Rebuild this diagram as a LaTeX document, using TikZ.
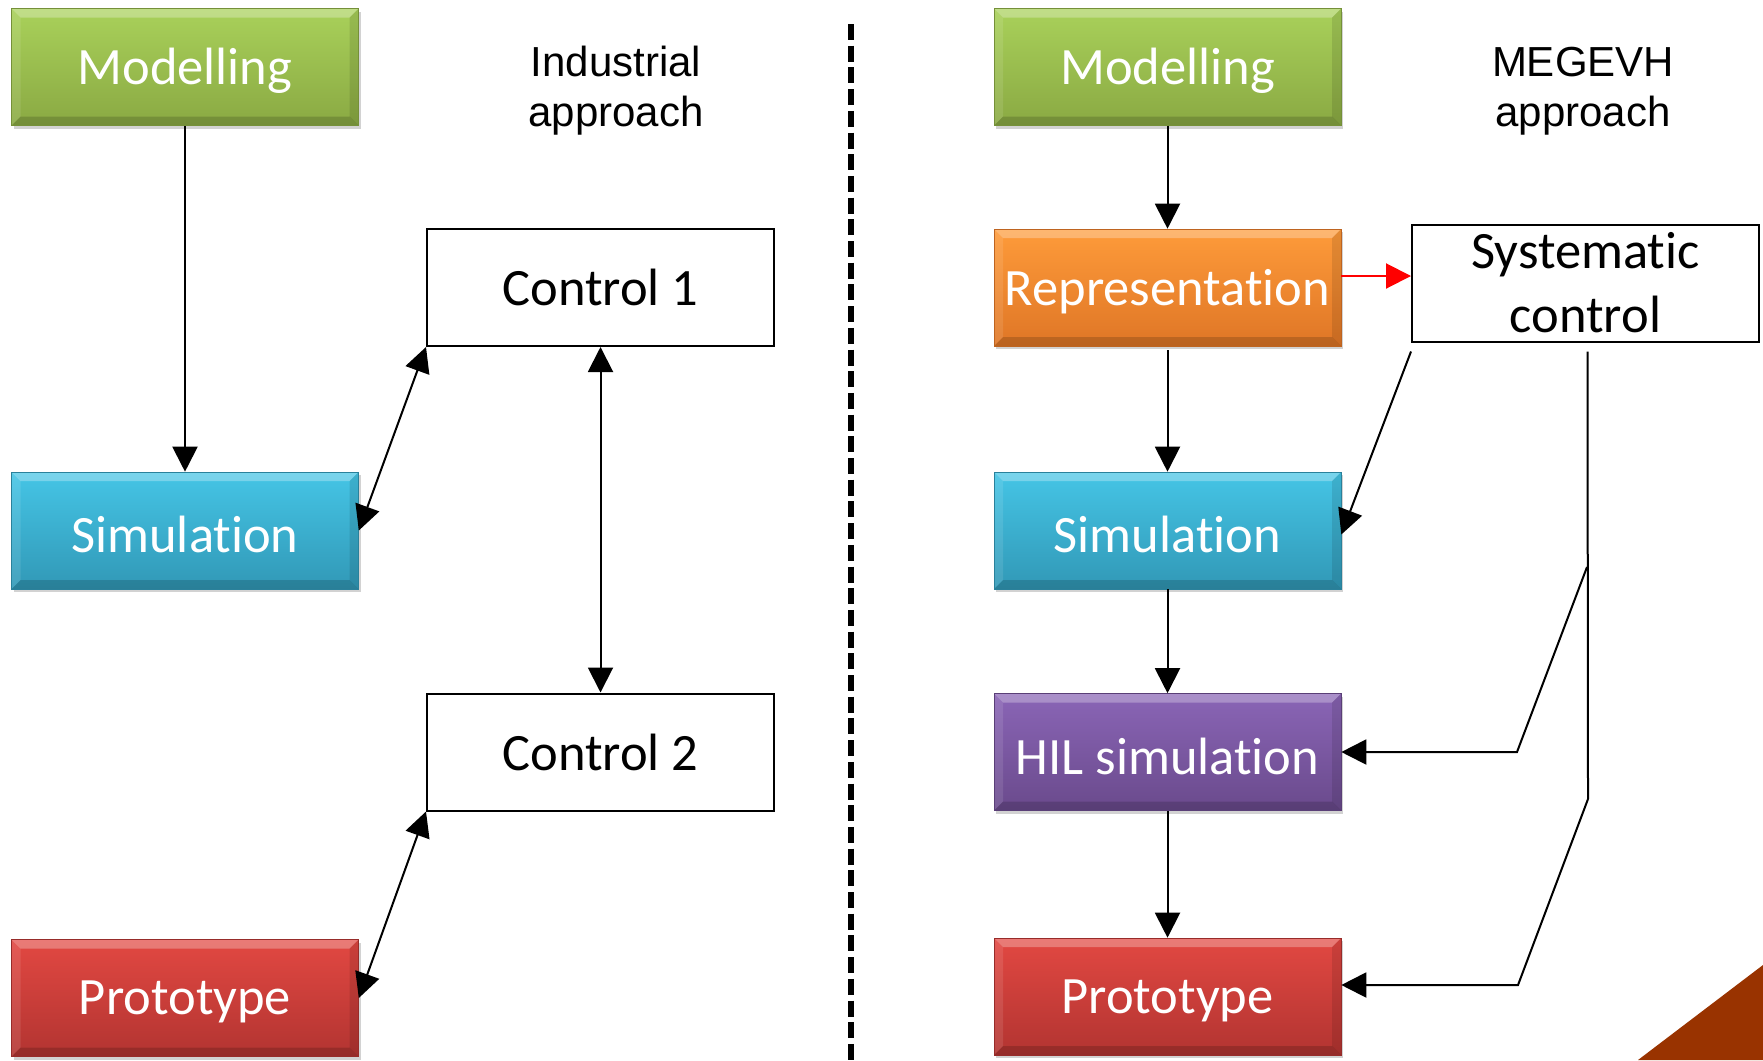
\documentclass[tikz,border=0pt]{standalone}
\usepackage{fontspec}
\setmainfont[RawFeature={-liga;-clig;-dlig;-calt}]{Carlito}
\newfontfamily\arialf{Liberation Sans}
\usetikzlibrary{arrows.meta,shadows,calc}
\definecolor{gtop}{HTML}{A9D15A}\definecolor{gbot}{HTML}{8AA943}
\definecolor{otop}{HTML}{FE9B3A}\definecolor{obot}{HTML}{DF7626}
\definecolor{ctop}{HTML}{45C5E6}\definecolor{cbot}{HTML}{3198B6}
\definecolor{ptop}{HTML}{8A65B6}\definecolor{pbot}{HTML}{6A4A8C}
\definecolor{rtop}{HTML}{E24842}\definecolor{rbot}{HTML}{B23431}
\definecolor{brownc}{HTML}{993300}
\newcommand{\lowtext}[1]{\raisebox{-4pt}[\height][\depth]{#1}}
\tikzset{
  boxbase/.style={minimum width=347pt, minimum height=117pt, inner sep=0pt,
    font=\fontsize{52.5}{64}\selectfont, align=center},
  colbox/.style={boxbase, text=white, top color=#1top, bottom color=#1bot,
    draw=#1bot!85!black, line width=0.6pt,
    drop shadow={opacity=0.35, shadow xshift=2pt, shadow yshift=-3pt},
    path picture={
      \fill[white,opacity=0.28] (path picture bounding box.north west) -- (path picture bounding box.north east)
        -- ([xshift=-9pt,yshift=-9pt]path picture bounding box.north east) -- ([xshift=9pt,yshift=-9pt]path picture bounding box.north west) -- cycle;
      \fill[white,opacity=0.10] (path picture bounding box.north west) -- ([xshift=9pt,yshift=-9pt]path picture bounding box.north west)
        -- ([xshift=9pt,yshift=9pt]path picture bounding box.south west) -- (path picture bounding box.south west) -- cycle;
      \fill[black,opacity=0.10] (path picture bounding box.north east) -- ([xshift=-9pt,yshift=-9pt]path picture bounding box.north east)
        -- ([xshift=-9pt,yshift=9pt]path picture bounding box.south east) -- (path picture bounding box.south east) -- cycle;
      \fill[black,opacity=0.16] (path picture bounding box.south west) -- (path picture bounding box.south east)
        -- ([xshift=-9pt,yshift=9pt]path picture bounding box.south east) -- ([xshift=9pt,yshift=9pt]path picture bounding box.south west) -- cycle;
    }},
  whitebox/.style={boxbase, draw=black, line width=2pt, fill=white},
  arr/.style={line width=2pt, -{Triangle[length=25pt,width=25pt]}},
  darr/.style={line width=2pt, {Triangle[length=25pt,width=25pt]}-{Triangle[length=25pt,width=25pt]}},
  plain/.style={line width=2pt},
  approach/.style={font=\arialf\fontsize{42}{50}\selectfont, align=center}
}
\begin{document}
\begin{tikzpicture}[x=1pt,y=-1pt]
\useasboundingbox (0,0) rectangle (1763,1060);
\fill[white] (0,0) rectangle (1763,1060);
% triangle corner
\fill[brownc] (1763,965) -- (1638,1060) -- (1763,1060) -- cycle;
% dashed separator
\draw[line width=5.5pt, dash pattern=on 16pt off 5.7pt] (851,24) -- (851,1060);

% left column
\node[colbox=g] (lmod) at (185,67) {\lowtext{Modelling}};
\node[colbox=c] (lsim) at (185,530.5) {\lowtext{Simulation}};
\node[colbox=r] (lpro) at (185,998) {\lowtext{Prototype}};
\node[whitebox] (c1) at (600.5,287.5) {Control 1};
\node[whitebox] (c2) at (600.5,752) {Control 2};
\node[approach] (lapp) at (616,91) {Industrial\\approach};

\draw[arr] (lmod.south) -- (lsim.north);
\draw[darr] (lsim.east) -- (c1.south west);
\draw[darr] (c1.south) -- (c2.north);
\draw[darr] (lpro.east) -- (c2.south west);

% right column
\node[colbox=g] (rmod) at (1167.5,67) {\lowtext{Modelling}};
\node[colbox=o] (rep) at (1167.5,287.5) {\lowtext{Representation}};
\node[colbox=c] (rsim) at (1167.5,530.5) {\lowtext{Simulation}};
\node[colbox=p] (hil) at (1167.5,752) {\lowtext{HIL simulation}};
\node[colbox=r] (rpro) at (1167.5,996.5) {\lowtext{Prototype}};
\node[whitebox] (sys) at (1585.5,283) {Systematic\\control};
\node[approach] (rapp) at (1583,91) {MEGEVH\\approach};

\draw[arr] (rmod.south) -- (rep.north);
\draw[arr, red] ([yshift=7pt]rep.east |- sys.west) -- ([yshift=7pt]sys.west);
\draw[arr] ([yshift=-4pt]rep.south) -- (rsim.north);
\draw[arr] ([yshift=-9pt]sys.south west) -- ([yshift=-4pt]rsim.east);
\draw[arr] (rsim.south) -- (hil.north);
\draw[arr] (hil.south) -- (rpro.north);

\coordinate (vtop) at ([xshift=2pt,yshift=-9pt]sys.south);
\coordinate (vbot) at (1588,799);
\draw[plain] (vtop) -- (vbot);
\coordinate (b1) at (1587,567);
\coordinate (k1) at (1517,752);
\draw[arr] (b1) -- (k1) -- (hil.east);
\coordinate (k2) at (1518,985);
\draw[arr] (vbot) -- (k2) -- (rpro.east |- k2);
\end{tikzpicture}
\end{document}
